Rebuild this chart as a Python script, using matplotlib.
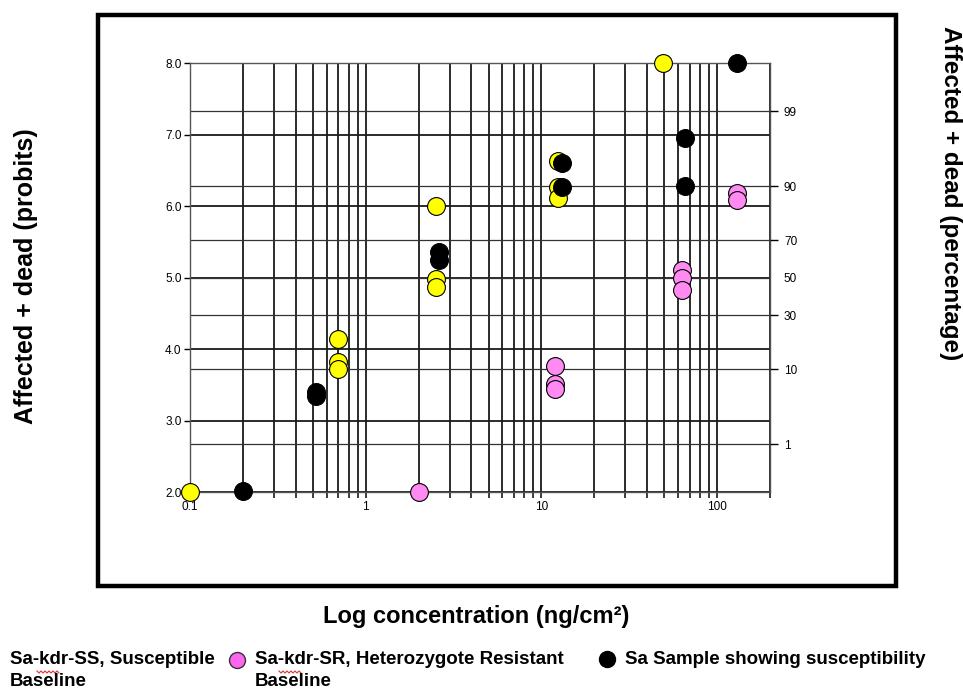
import numpy as np
import matplotlib.pyplot as plt
from matplotlib.ticker import LogLocator, FixedLocator, FuncFormatter, NullFormatter
from matplotlib.lines import Line2D
from matplotlib.patches import Rectangle
from statistics import NormalDist

plt.rcParams['font.family'] = ['Liberation Sans', 'DejaVu Sans']

# concentration (ng/cm2) vs affected + dead (probits)
ss_conc = [0.1, 0.7, 0.7, 0.7, 2.5, 2.5, 2.5, 12.5, 12.5, 12.5, 49]
ss_probit = [2.0, 4.14, 3.82, 3.72, 6.0, 4.98, 4.87, 6.64, 6.27, 6.11, 8.0]

sr_conc = [2.0, 12.0, 12.0, 12.0, 63.5, 63.5, 63.5, 130, 130]
sr_probit = [2.0, 3.77, 3.51, 3.45, 5.11, 5.0, 4.83, 6.18, 6.09]

sa_conc = [0.2, 0.52, 0.52, 2.63, 2.63, 13.1, 13.1, 66, 66, 130]
sa_probit = [2.02, 3.40, 3.35, 5.36, 5.25, 6.61, 6.27, 6.95, 6.28, 8.0]

probit_ticks = [2, 3, 4, 5, 6, 7, 8]
conc_ticks = [0.1, 1, 10, 100]
pct_ticks = [1, 10, 30, 50, 70, 90, 99]

W, H = 963, 689


def fx(px):
    return px / W


def fy(py):
    return 1 - py / H


fig = plt.figure(figsize=(9.63, 6.89), dpi=100)
ax = fig.add_axes([fx(190), fy(492.3), (770 - 190) / W, (492.3 - 63.3) / H])

ax.set_xscale('log')
ax.set_xlim(0.1, 200)
ax.set_ylim(2, 8)

ax.xaxis.set_major_locator(FixedLocator(conc_ticks))
ax.xaxis.set_minor_locator(LogLocator(base=10, subs=np.arange(2, 10)))
ax.xaxis.set_major_formatter(FuncFormatter(lambda v, p: '%g' % v))
ax.xaxis.set_minor_formatter(NullFormatter())
ax.set_yticks(probit_ticks)
ax.set_yticklabels(['%.1f' % v for v in probit_ticks])

ax.grid(True, which='both', axis='x', color='#1a1a1a', lw=1.3, zorder=1)
ax.grid(True, which='major', axis='y', color='#1a1a1a', lw=1.3, zorder=1)
ax.set_axisbelow(True)

# percentage lines at their probit equivalents
nd = NormalDist()
pct_probit = [5 + nd.inv_cdf(p / 100) for p in pct_ticks]
for yv in pct_probit:
    ax.axhline(yv, color='#333333', lw=0.9, zorder=1)

ax.tick_params(axis='x', which='both', direction='out', length=4, width=1.2,
               color='#1a1a1a', labelsize=8.5, pad=2)
ax.tick_params(axis='y', which='major', direction='out', length=4, width=1,
               labelsize=8.5, pad=2)
for s in ax.spines.values():
    s.set_color('#555555')
    s.set_linewidth(1)

ax2 = ax.twinx()
ax2.set_ylim(2, 8)
ax2.set_yticks(pct_probit)
ax2.set_yticklabels([str(p) for p in pct_ticks])
ax2.tick_params(axis='y', direction='out', length=6, width=1, labelsize=8.5, pad=4)
ax2.yaxis.get_major_ticks()[pct_ticks.index(50)].tick2line.set_visible(False)
for s in ax2.spines.values():
    s.set_visible(False)

ax.scatter(ss_conc, ss_probit, s=165, c='#ffff00', edgecolors='black',
           linewidths=0.8, zorder=5, clip_on=False)
ax.scatter(sr_conc, sr_probit, s=165, c='#ff8af2', edgecolors='black',
           linewidths=0.8, zorder=6, clip_on=False)
ax.scatter(sa_conc, sa_probit, s=165, c='black', edgecolors='black',
           linewidths=0.8, zorder=7, clip_on=False)

# outer frame
fig.add_artist(Rectangle((fx(98), fy(586)), (896 - 98) / W, (586 - 15) / H,
                         transform=fig.transFigure, fill=False, lw=3.2,
                         edgecolor='black'))

fig.text(fx(26), fy(276), 'Affected + dead (probits)', rotation=90,
         ha='center', va='center', fontsize=18, fontweight='bold')
fig.text(fx(950), fy(193), 'Affected + dead (percentage)', rotation=-90,
         ha='center', va='center', fontsize=17.5, fontweight='bold')
fig.text(fx(476), fy(617), 'Log concentration (ng/cm²)',
         ha='center', va='center', fontsize=17, fontweight='bold')

# key along the bottom
key_kw = dict(ha='left', va='center', fontsize=13.5, fontweight='bold')
fig.text(fx(10), fy(660), 'Sa-kdr-SS, Susceptible', **key_kw)
fig.text(fx(10), fy(682), 'Baseline', **key_kw)
fig.add_artist(Line2D([fx(237)], [fy(660)], marker='o', markersize=11.5,
                      markerfacecolor='#ff66ee', markeredgecolor='#333333',
                      markeredgewidth=1, transform=fig.transFigure))
fig.text(fx(255), fy(660), 'Sa-kdr-SR, Heterozygote Resistant', **key_kw)
fig.text(fx(255), fy(682), 'Baseline', **key_kw)
fig.add_artist(Line2D([fx(607)], [fy(659)], marker='o', markersize=11.5,
                      markerfacecolor='black', markeredgecolor='black',
                      transform=fig.transFigure))
fig.text(fx(625), fy(659), 'Sa Sample showing susceptibility', **key_kw)

# spell-check squiggles under "kdr"
for x0 in (37, 279):
    xs = np.arange(x0, x0 + 23, 2)
    ys = [671 if i % 2 == 0 else 673 for i in range(len(xs))]
    fig.add_artist(Line2D([fx(v) for v in xs], [fy(v) for v in ys],
                          color='#e03030', lw=0.8, transform=fig.transFigure))

fig.savefig('out.png', dpi=100)
